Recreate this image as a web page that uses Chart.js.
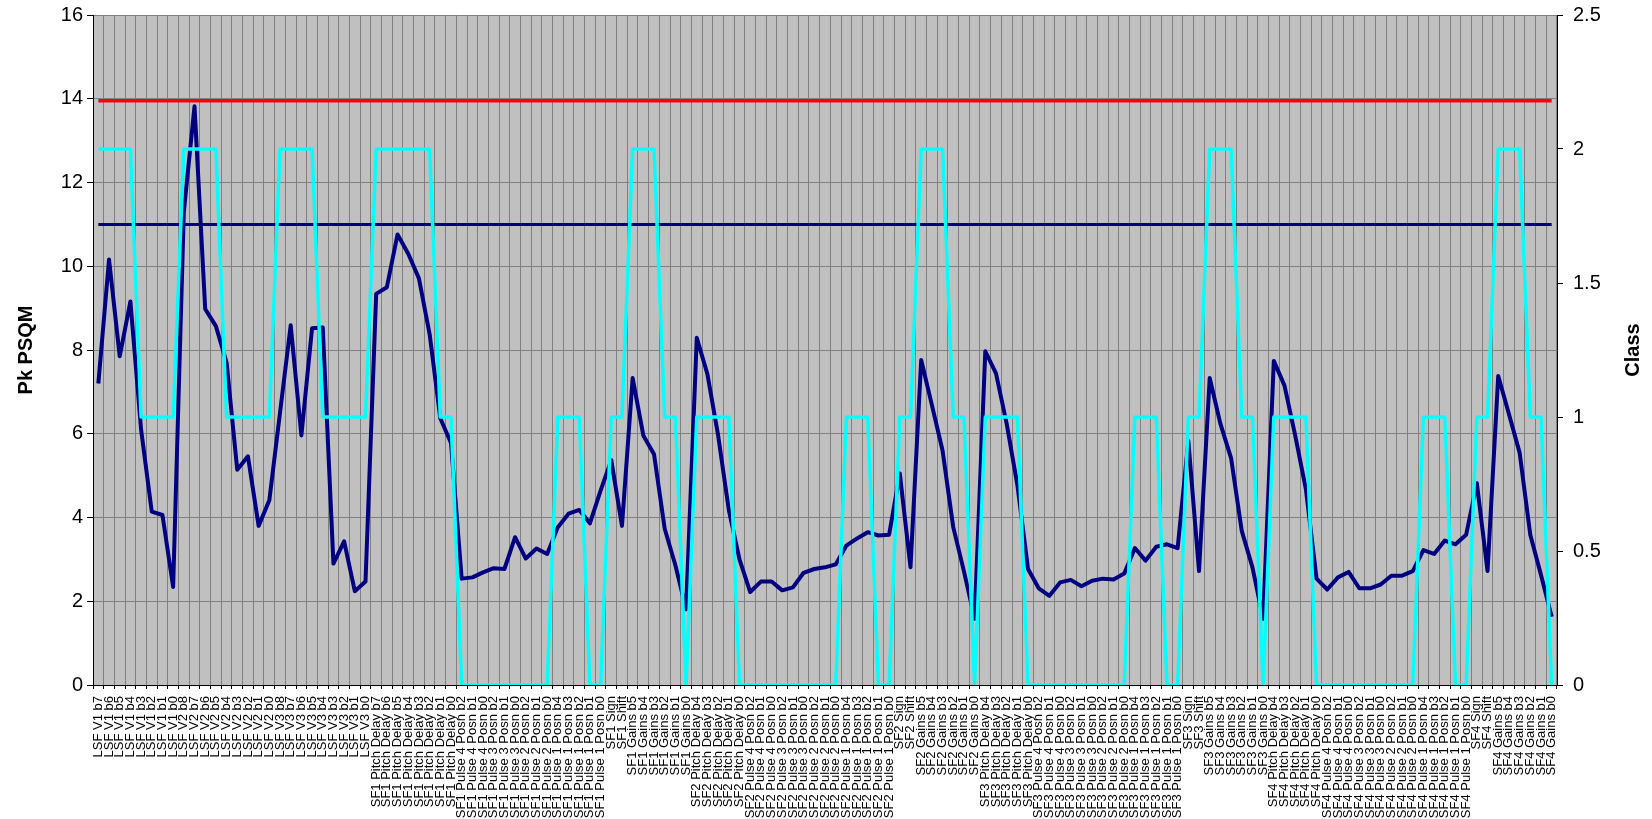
<!DOCTYPE html>
<html>
<head>
<meta charset="utf-8">
<script src="https://cdn.jsdelivr.net/npm/chart.js@4.4.1/dist/chart.umd.min.js"></script>
<style>
  html, body { margin: 0; padding: 0; background: #ffffff; }
  #wrap { position: relative; width: 1652px; height: 819px; }
</style>
</head>
<body>
<div id="wrap"><canvas id="c"></canvas></div>
<script>
// ---- Data ----
const categories = [
  "LSF V1 b7","LSF V1 b6","LSF V1 b5","LSF V1 b4","LSF V1 b3","LSF V1 b2","LSF V1 b1","LSF V1 b0",
  "LSF V2 b8","LSF V2 b7","LSF V2 b6","LSF V2 b5","LSF V2 b4","LSF V2 b3","LSF V2 b2","LSF V2 b1","LSF V2 b0",
  "LSF V3 b8","LSF V3 b7","LSF V3 b6","LSF V3 b5","LSF V3 b4","LSF V3 b3","LSF V3 b2","LSF V3 b1","LSF V3 b0",
  "SF1 Pitch Delay b7","SF1 Pitch Delay b6","SF1 Pitch Delay b5","SF1 Pitch Delay b4","SF1 Pitch Delay b3","SF1 Pitch Delay b2","SF1 Pitch Delay b1","SF1 Pitch Delay b0",
  "SF1 Pulse 4 Posn b2","SF1 Pulse 4 Posn b1","SF1 Pulse 4 Posn b0",
  "SF1 Pulse 3 Posn b2","SF1 Pulse 3 Posn b1","SF1 Pulse 3 Posn b0",
  "SF1 Pulse 2 Posn b2","SF1 Pulse 2 Posn b1","SF1 Pulse 2 Posn b0",
  "SF1 Pulse 1 Posn b4","SF1 Pulse 1 Posn b3","SF1 Pulse 1 Posn b2","SF1 Pulse 1 Posn b1","SF1 Pulse 1 Posn b0",
  "SF1 Sign","SF1 Shift",
  "SF1 Gains b5","SF1 Gains b4","SF1 Gains b3","SF1 Gains b2","SF1 Gains b1","SF1 Gains b0",
  "SF2 Pitch Delay b4","SF2 Pitch Delay b3","SF2 Pitch Delay b2","SF2 Pitch Delay b1","SF2 Pitch Delay b0",
  "SF2 Pulse 4 Posn b2","SF2 Pulse 4 Posn b1","SF2 Pulse 4 Posn b0",
  "SF2 Pulse 3 Posn b2","SF2 Pulse 3 Posn b1","SF2 Pulse 3 Posn b0",
  "SF2 Pulse 2 Posn b2","SF2 Pulse 2 Posn b1","SF2 Pulse 2 Posn b0",
  "SF2 Pulse 1 Posn b4","SF2 Pulse 1 Posn b3","SF2 Pulse 1 Posn b2","SF2 Pulse 1 Posn b1","SF2 Pulse 1 Posn b0",
  "SF2 Sign","SF2 Shift",
  "SF2 Gains b5","SF2 Gains b4","SF2 Gains b3","SF2 Gains b2","SF2 Gains b1","SF2 Gains b0",
  "SF3 Pitch Delay b4","SF3 Pitch Delay b3","SF3 Pitch Delay b2","SF3 Pitch Delay b1","SF3 Pitch Delay b0",
  "SF3 Pulse 4 Posn b2","SF3 Pulse 4 Posn b1","SF3 Pulse 4 Posn b0",
  "SF3 Pulse 3 Posn b2","SF3 Pulse 3 Posn b1","SF3 Pulse 3 Posn b0",
  "SF3 Pulse 2 Posn b2","SF3 Pulse 2 Posn b1","SF3 Pulse 2 Posn b0",
  "SF3 Pulse 1 Posn b4","SF3 Pulse 1 Posn b3","SF3 Pulse 1 Posn b2","SF3 Pulse 1 Posn b1","SF3 Pulse 1 Posn b0",
  "SF3 Sign","SF3 Shift",
  "SF3 Gains b5","SF3 Gains b4","SF3 Gains b3","SF3 Gains b2","SF3 Gains b1","SF3 Gains b0",
  "SF4 Pitch Delay b4","SF4 Pitch Delay b3","SF4 Pitch Delay b2","SF4 Pitch Delay b1","SF4 Pitch Delay b0",
  "SF4 Pulse 4 Posn b2","SF4 Pulse 4 Posn b1","SF4 Pulse 4 Posn b0",
  "SF4 Pulse 3 Posn b2","SF4 Pulse 3 Posn b1","SF4 Pulse 3 Posn b0",
  "SF4 Pulse 2 Posn b2","SF4 Pulse 2 Posn b1","SF4 Pulse 2 Posn b0",
  "SF4 Pulse 1 Posn b4","SF4 Pulse 1 Posn b3","SF4 Pulse 1 Posn b2","SF4 Pulse 1 Posn b1","SF4 Pulse 1 Posn b0",
  "SF4 Sign","SF4 Shift",
  "SF4 Gains b5","SF4 Gains b4","SF4 Gains b3","SF4 Gains b2","SF4 Gains b1","SF4 Gains b0"
];

// Pk PSQM (left axis)
const pkPsqm = [
  7.20,10.16,7.85,9.16,6.10,4.14,4.06,2.34,
  11.30,13.82,8.98,8.57,7.70,5.14,5.46,3.80,4.41,
  6.50,8.59,5.96,8.52,8.54,2.90,3.43,2.24,2.47,
  9.34,9.50,10.76,10.30,9.71,8.38,6.37,5.78,
  2.54,2.57,2.69, 2.79,2.77,3.53, 3.02,3.26,3.13,
  3.77,4.09,4.18,3.86,4.64,
  5.37,3.80,
  7.33,5.96,5.51,3.73,2.86,1.81,
  8.29,7.42,5.96,4.18,3.00,
  2.22,2.47,2.47, 2.26,2.33,2.68, 2.77,2.81,2.88,
  3.33,3.50,3.65,3.57,3.59,
  5.05,2.81,
  7.76,6.69,5.60,3.77,2.72,1.58,
  7.97,7.44,6.24,4.78,2.77,
  2.31,2.13,2.45, 2.51,2.36,2.49, 2.54,2.52,2.66,
  3.27,2.97,3.30,3.36,3.27,
  5.83,2.72,
  7.33,6.24,5.42,3.68,2.81,1.58,
  7.74,7.15,5.96,4.68,2.54,
  2.28,2.57,2.70, 2.31,2.31,2.40, 2.61,2.61,2.72,
  3.22,3.13,3.45,3.36,3.59,
  4.82,2.72,
  7.38,6.47,5.55,3.59,2.63,1.63
];

// Class (right axis)
const classValues = [
  2,2,2,2,1,1,1,1,
  2,2,2,2,1,1,1,1,1,
  2,2,2,2,1,1,1,1,1,
  2,2,2,2,2,2,1,1,
  0,0,0, 0,0,0, 0,0,0,
  1,1,1,0,0,
  1,1,
  2,2,2,1,1,0,
  1,1,1,1,0,
  0,0,0, 0,0,0, 0,0,0,
  1,1,1,0,0,
  1,1,
  2,2,2,1,1,0,
  1,1,1,1,0,
  0,0,0, 0,0,0, 0,0,0,
  1,1,1,0,0,
  1,1,
  2,2,2,1,1,0,
  1,1,1,1,0,
  0,0,0, 0,0,0, 0,0,0,
  1,1,1,0,0,
  1,1,
  2,2,2,1,1,0
];

// Reference levels (left axis)
const upperLimit = [13.95, 13.95];
const lowerLimit = [11.0, 11.0];
const limitEnds = [categories[0], categories[categories.length - 1]];

const leftTicks = { min: 0, max: 16, step: 2 };
const rightTicks = { min: 0, max: 2.5, step: 0.5 };

// ---- Chart ----
const FONT = "'Liberation Sans', Arial, Helvetica, sans-serif";
Chart.defaults.font.family = FONT;
Chart.defaults.color = '#000';

const plotBg = {
  id: 'plotBg',
  beforeDraw(chart) {
    const { ctx, chartArea: a } = chart;
    ctx.save();
    ctx.fillStyle = '#C0C0C0';
    ctx.fillRect(a.left, a.top, a.right - a.left, a.bottom - a.top);
    ctx.restore();
  },
  afterDraw(chart) {
    const { ctx, chartArea: a } = chart;
    ctx.save();
    ctx.font = "bold 20px " + FONT;
    ctx.fillStyle = '#000';
    ctx.textAlign = 'center';
    ctx.textBaseline = 'middle';
    ctx.translate(1633, (a.top + a.bottom) / 2);
    ctx.rotate(-Math.PI / 2);
    ctx.fillText('Class', 0, 0);
    ctx.restore();
  }
};

function fitVertical(width) {
  return function (s) {
    s.width = width;
    s.paddingTop = 0;
    s.paddingBottom = 0;
  };
}

new Chart(document.getElementById('c'), {
  type: 'line',
  data: {
    labels: categories,
    datasets: [
      {
        label: 'Class',
        data: classValues,
        yAxisID: 'y1',
        borderColor: '#00FFFF',
        borderWidth: 3.5,
        pointRadius: 0,
        tension: 0,
        borderJoinStyle: 'round'
      },
      {
        label: 'Pk PSQM',
        data: pkPsqm,
        yAxisID: 'y',
        borderColor: '#000080',
        borderWidth: 4,
        pointRadius: 0,
        tension: 0,
        borderJoinStyle: 'round'
      },
      {
        label: 'Upper',
        data: limitEnds.map((c, i) => ({ x: c, y: upperLimit[i] })),
        yAxisID: 'y',
        borderColor: '#FF0000',
        borderWidth: 3.5,
        pointRadius: 0
      },
      {
        label: 'Lower',
        data: limitEnds.map((c, i) => ({ x: c, y: lowerLimit[i] })),
        yAxisID: 'y',
        borderColor: '#000080',
        borderWidth: 3,
        pointRadius: 0
      }
    ]
  },
  options: {
    responsive: true,
    maintainAspectRatio: false,
    animation: false,
    layout: { padding: { top: 15, left: 0, right: 0, bottom: 0 } },
    plugins: { legend: { display: false }, tooltip: { enabled: false } },
    scales: {
      x: {
        type: 'category',
        offset: true,
        grid: { offset: true, color: '#808080', lineWidth: 1, tickLength: 4, tickColor: '#000' },
        border: { color: '#000', width: 1 },
        ticks: { autoSkip: false, maxRotation: 90, minRotation: 90, padding: 7, font: { size: 13 }, color: '#000' },
        afterFit(s) { s.height = 134; s.paddingLeft = 0; s.paddingRight = 0; }
      },
      y: {
        position: 'left',
        min: leftTicks.min, max: leftTicks.max,
        ticks: { stepSize: leftTicks.step, font: { size: 20 }, color: '#000', padding: 4 },
        grid: { color: '#808080', lineWidth: 1, tickLength: 6, tickColor: '#000' },
        border: { color: '#000', width: 1 },
        title: { display: true, text: 'Pk PSQM', font: { size: 20, weight: 'bold' }, color: '#000', padding: { top: 14, bottom: 0 } },
        afterFit: fitVertical(93)
      },
      y1: {
        position: 'right',
        min: rightTicks.min, max: rightTicks.max,
        ticks: { stepSize: rightTicks.step, font: { size: 20 }, color: '#000', padding: 10,
                 callback: (v) => String(Math.round(v * 10) / 10) },
        grid: { drawOnChartArea: false, tickLength: 6, tickColor: '#000' },
        border: { color: '#000', width: 1 },
        afterFit: fitVertical(95)
      }
    }
  },
  plugins: [plotBg]
});
</script>
</body>
</html>
